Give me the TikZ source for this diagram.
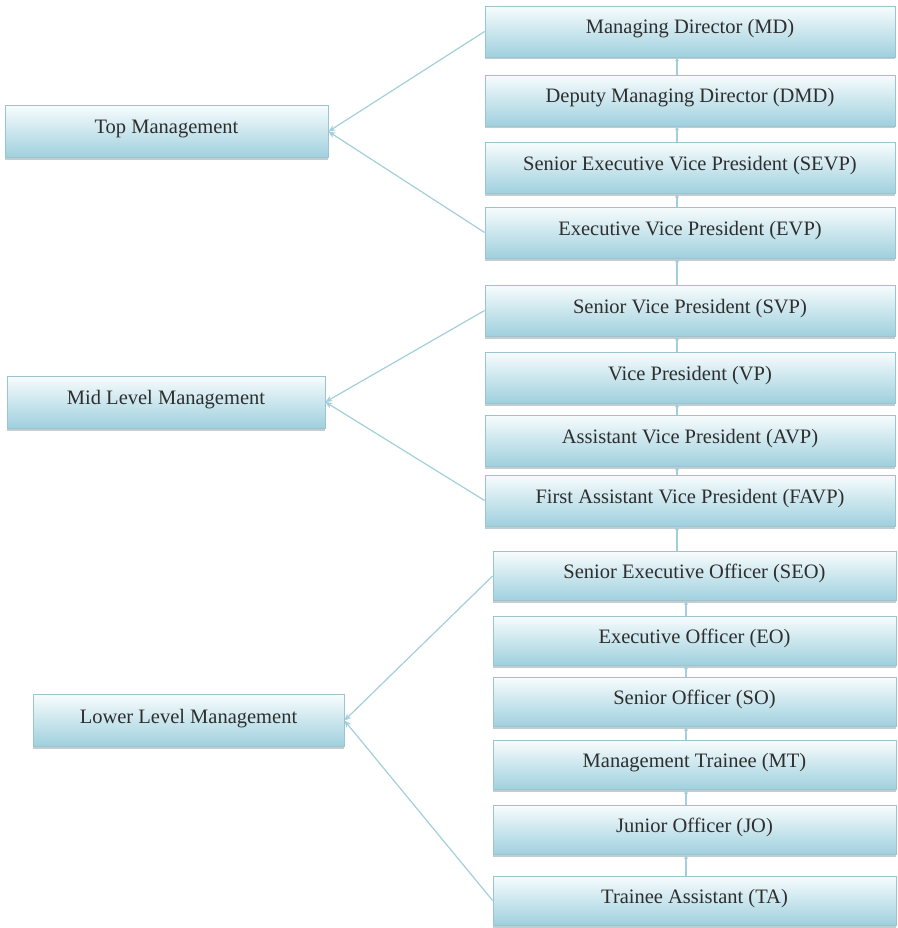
\documentclass[tikz,border=0pt]{standalone}
\usepackage{fontspec}
\setmainfont{Liberation Serif}
\usetikzlibrary{shadows,arrows.meta}
\definecolor{boxtop}{HTML}{F7FCFD}
\definecolor{boxmid}{HTML}{E0F1F6}
\definecolor{boxbot}{HTML}{9FD0DE}
\definecolor{boxline}{HTML}{9CC4CF}
\definecolor{linkcol}{HTML}{A3CFDA}
\definecolor{txtcol}{HTML}{2E2E2E}
\tikzset{
  rank/.style={rectangle, draw=boxline, line width=0.8pt,
    top color=boxtop, middle color=boxmid, bottom color=boxbot,
    drop shadow={shadow xshift=0pt, shadow yshift=-2.5pt, opacity=0.5, fill=gray!80!cyan},
    text=txtcol, font=\fontsize{20.5}{23}\selectfont, inner sep=0pt,
    text height=14.5pt, text depth=9.5pt},
  rightbox/.style={rank, minimum width=410pt, minimum height=51pt},
  lowbox/.style={rank, minimum width=403pt, minimum height=49pt},
  leftbox/.style={rank, minimum height=52pt},
  link/.style={draw=linkcol, line width=1.2pt, -{Stealth[length=7pt,width=6pt]}},
  vlink/.style={draw=linkcol, line width=1.2pt, -{Stealth[length=4pt,width=4pt]}}
}
\begin{document}
\begin{tikzpicture}[x=1pt,y=-1pt]
\useasboundingbox (0,0) rectangle (897,928);
% right column, top group
\node[rightbox] (MD)   at (690,31.5)  {Managing Director (MD)};
\node[rightbox] (DMD)  at (690,100.5) {Deputy Managing Director (DMD)};
\node[rightbox] (SEVP) at (690,168)   {Senior Executive Vice President (SEVP)};
\node[rightbox] (EVP)  at (690,232.5) {Executive Vice President (EVP)};
% mid group
\node[rightbox] (SVP)  at (690,310.5) {Senior Vice President (SVP)};
\node[rightbox] (VP)   at (690,377.5) {Vice President (VP)};
\node[rightbox] (AVP)  at (690,440.5) {Assistant Vice President (AVP)};
\node[rightbox] (FAVP) at (690,500.5) {First Assistant Vice President (FAVP)};
% lower group
\node[lowbox] (SEO) at (694.5,576) {Senior Executive Officer (SEO)};
\node[lowbox] (EO)  at (694.5,640.5) {Executive Officer (EO)};
\node[lowbox] (SO)  at (694.5,702) {Senior Officer (SO)};
\node[lowbox] (MT)  at (694.5,765) {Management Trainee (MT)};
\node[lowbox] (JO)  at (694.5,830) {Junior Officer (JO)};
\node[lowbox] (TA)  at (694.5,900.5) {Trainee Assistant (TA)};
% left column
\node[leftbox, minimum width=323pt] (TOP) at (166.5,131.5) {Top Management};
\node[leftbox, minimum width=318pt] (MID) at (166,402) {Mid Level Management};
\node[leftbox, minimum width=311pt] (LOW) at (188.5,720.5) {Lower Level Management};
% connectors to categories
\draw[link] (MD.west)   -- (TOP.east);
\draw[link] (EVP.west)  -- (TOP.east);
\draw[link] (SVP.west)  -- (MID.east);
\draw[link] (FAVP.west) -- (MID.east);
\draw[link] (SEO.west)  -- (LOW.east);
\draw[link] (TA.west)   -- (LOW.east);
% vertical chain
\coordinate (cx) at (677,0);
\coordinate (cy) at (686,0);
\draw[vlink] (DMD.north -| cx)  -- (MD.south -| cx);
\draw[vlink] (SEVP.north -| cx) -- (DMD.south -| cx);
\draw[vlink] (EVP.north -| cx)  -- (SEVP.south -| cx);
\draw[vlink] (SVP.north -| cx)  -- (EVP.south -| cx);
\draw[vlink] (VP.north -| cx)   -- (SVP.south -| cx);
\draw[vlink] (AVP.north -| cx)  -- (VP.south -| cx);
\draw[vlink] (FAVP.north -| cx) -- (AVP.south -| cx);
\draw[vlink] (SEO.north -| cx)  -- (FAVP.south -| cx);
\draw[vlink] (EO.north -| cy)   -- (SEO.south -| cy);
\draw[vlink] (SO.north -| cy)   -- (EO.south -| cy);
\draw[vlink] (MT.north -| cy)   -- (SO.south -| cy);
\draw[vlink] (JO.north -| cy)   -- (MT.south -| cy);
\draw[vlink] (TA.north -| cy)   -- (JO.south -| cy);
\end{tikzpicture}
\end{document}
